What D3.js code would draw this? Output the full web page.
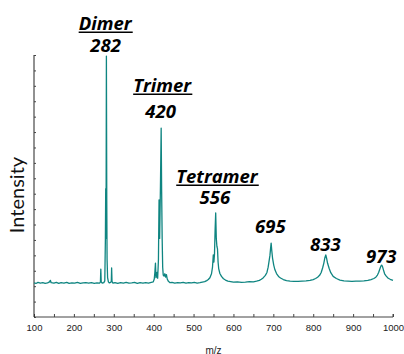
<!DOCTYPE html>
<html><head><meta charset="utf-8">
<script src="https://cdn.jsdelivr.net/npm/d3@7"></script>
<style>body{margin:0;background:#fff}svg{display:block}</style>
</head><body>
<script>
// ---- data ----
const mzValues = [100,105,110,116,122,128,134,139,141,143,150,156,162,168,175,182,188,195,202,209,216,223,230,237,244,251,258,264,
266.5,267.5,268.5,271,275,277.5,279,279.8,280.6,281.5,282.4,283.2,284.5,286.5,289,292,293.8,294.6,295.6,298,303,310,317,324,331,338,345,352,359,366,373,380,387,394,399,
401.5,403,404.5,405.8,407,408.5,410,412,413.5,415,417,418.8,420,421.3,422.6,424,426,428,430,432,434,437,441,446,453,460,467,474,481,488,495,502,509,516,522,528,533,537,541,545,547.5,
549.5,551,552.5,554,555.5,557,558.5,560,561.5,563,566,570,575,580,586,593,600,610,620,630,640,650,658,665,670,675,680,684,687,689.5,691.5,693,694.5,696,698,701,704,708,713,718,725,733,742,752,762,772,782,792,
800,806,811,816,820,823.5,826.5,829,831.5,833.5,836,840,844,850,858,867,877,887,897,907,917,927,937,945,952,957,961,964,967,969.5,971.5,973.5,976,979,983,988,993,1000];
const intensityValues = [13.0,12.8,13.2,12.9,13.1,12.8,13.0,13.4,14.0,13.1,12.9,13.2,12.8,13.1,12.9,13.2,12.8,13.0,12.9,13.2,12.8,13.0,13.1,12.9,13.1,12.8,13.0,12.9,
13.3,18.3,13.4,12.9,13.1,13.8,30,49,30,99.6,45,22,15,13.4,13.0,13.2,13.6,18.7,13.5,12.9,13.1,12.8,13.1,12.9,13.2,12.9,13.0,13.2,12.8,13.1,12.9,13.1,12.9,13.2,13.4,
14.5,17,20.6,15,15.5,17,14.8,22,44.7,30,50,72.1,48,30,19,16,15.6,16.5,15.2,16.2,14.5,13.6,13.1,13.2,12.9,13.1,13.0,13.2,12.9,13.1,13.0,13.2,12.9,13.1,13.3,13.5,13.9,14.3,15.0,16.5,19,
23.7,21,24,33,39.7,30,27,26,21,18.5,16.6,15.5,14.6,14.1,13.7,13.5,13.3,13.4,13.2,13.3,13.5,13.4,13.7,14.0,14.4,15.0,15.9,17,19,21.5,23.5,26,28.2,25.5,22.5,19.8,18,16.6,15.5,14.9,14.3,13.9,13.7,13.6,13.6,13.7,13.8,14.0,
14.3,14.7,15.2,15.9,17.0,18.7,20.5,22.5,23.7,22.5,20.5,18.5,16.9,15.5,14.7,14.1,13.8,13.7,13.6,13.7,13.7,13.8,14.0,14.3,14.7,15.2,16.0,17.0,18.3,19.4,19.8,19.3,18.0,16.5,15.6,14.8,14.4,14.0];
const xTickValues = [100,200,300,400,500,600,700,800,900,1000];
const peakLabels = ["282","420","556","695","833","973"];
const peakMz = [282,420,556,695,833,973];
const peakTop = [99.6,72.1,39.7,28.2,23.7,19.8];
const oligomerNames = ["Dimer","Trimer","Tetramer"];
const xTitle = "m/z";
const yTitle = "Intensity";

// ---- layout ----
const W = 404, H = 354;
const svg = d3.select("body").append("svg").attr("width", W).attr("height", H);
const x = d3.scaleLinear().domain([100, 1000]).range([34, 393]);
const y = d3.scaleLinear().domain([0, 100]).range([317, 55]);
const color = "#0f8581";

// axes
const xAxis = d3.axisBottom(x).tickValues(d3.range(100, 1001, 50)).tickSize(-3)
  .tickFormat(d => xTickValues.includes(d) ? d : "").tickPadding(7);
const gx = svg.append("g").attr("transform", "translate(0,317)").call(xAxis);
gx.select(".domain").attr("stroke", "#444").attr("d", "M34,0H393V-3");
gx.selectAll(".tick line").attr("stroke", "#444");
gx.selectAll("text").attr("font-family", "Liberation Sans, Arial, sans-serif")
  .attr("font-size", 9.5).attr("fill", "#222");

const yAxis = d3.axisLeft(y).tickValues(d3.range(0, 17.01, 1).map(d => d * 100 / 17))
  .tickSize(-2).tickFormat("");
const gy = svg.append("g").attr("transform", "translate(34,0)").call(yAxis);
gy.select(".domain").attr("stroke", "#222").attr("d", "M0,55V317");
gy.selectAll(".tick line").attr("stroke", "#444");

// titles
svg.append("text").attr("x", x(550)).attr("y", 353.5).attr("text-anchor", "middle")
  .attr("font-family", "Liberation Sans, Arial, sans-serif").attr("font-size", 10).attr("fill", "#222").text(xTitle);
svg.append("text").attr("transform", "translate(24,195) rotate(-90)").attr("text-anchor", "middle")
  .attr("font-family", "Lato, sans-serif").attr("font-size", 20).attr("fill", "#111").text(yTitle);

// spectrum
const pts = mzValues.map((m, i) => [m, intensityValues[i]]);
svg.append("path").datum(pts)
  .attr("fill", "none").attr("stroke", color).attr("stroke-width", 1.3).attr("stroke-linejoin", "round")
  .attr("d", d3.line().x(d => x(d[0])).y(d => y(d[1])));

// labels
const numOffset = [-4, -10, -9, -10, -4, -2];
const labelFont = "'Open Sans', Lato, sans-serif";
const fs = 18.5;
peakLabels.forEach((t, i) => {
  const cx = x(peakMz[i]) - 1, by = y(peakTop[i]) + numOffset[i];
  svg.append("text").attr("x", cx).attr("y", by).attr("text-anchor", "middle")
    .attr("font-family", labelFont).attr("font-size", fs).attr("font-weight", "bold")
    .attr("font-style", "italic").attr("fill", "#000").text(t);
  if (i < oligomerNames.length) {
    const gap = [22, 26, 21][i];
    const nx = x(peakMz[i]) + [-1.5, 0.5, 1][i];
    const nt = svg.append("text").attr("x", nx).attr("y", by - gap).attr("text-anchor", "middle")
      .attr("font-family", labelFont).attr("font-size", fs).attr("font-weight", "bold")
      .attr("font-style", "italic").attr("fill", "#000").text(oligomerNames[i]);
    const bb = nt.node().getBBox();
    svg.append("line").attr("x1", bb.x).attr("x2", bb.x + bb.width)
      .attr("y1", by - gap + 2.2).attr("y2", by - gap + 2.2)
      .attr("stroke", "#000").attr("stroke-width", 1.4);
  }
});
</script>
</body></html>
